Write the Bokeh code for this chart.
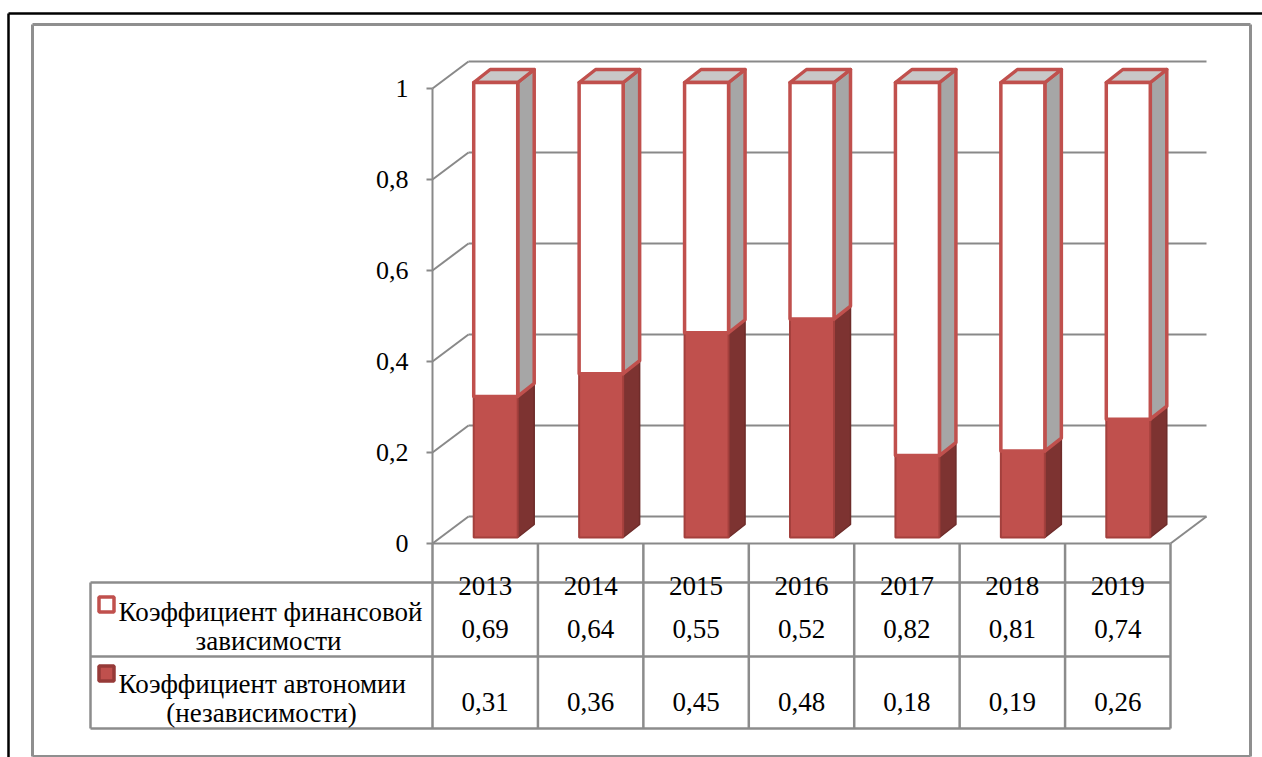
from bokeh.plotting import figure
from bokeh.models import Range1d, LinearAxis, FixedTicker
from bokeh.core.properties import value
from bokeh.embed import file_html
from bokeh.resources import INLINE

# ---- data -------------------------------------------------------------
years = ["2013", "2014", "2015", "2016", "2017", "2018", "2019"]
autonomy = [0.31, 0.36, 0.45, 0.48, 0.18, 0.19, 0.26]      # Коэффициент автономии
dependence = [0.69, 0.64, 0.55, 0.52, 0.82, 0.81, 0.74]    # Коэффициент финансовой зависимости
y_ticks = [0, 0.2, 0.4, 0.6, 0.8, 1]
y_tick_labels = ["0", "0,2", "0,4", "0,6", "0,8", "1"]
series_names = [["Коэффициент финансовой", "зависимости"],
                ["Коэффициент автономии", "(независимости)"]]

# ---- canvas geometry ---------------------------------------------------
W, H = 1262, 757
N = len(years)
X0_PX, Y0_PX = 432.0, 543.0          # origin of the category/value plane
PXX = (1170.0 - X0_PX) / N           # pixels per category
PXY = 455.0                          # pixels per value unit


def px_x(px):
    return (px - X0_PX) / PXX


def px_y(py):
    return (Y0_PX - py) / PXY


# depth of the 3-D box and of the columns inside it
DX, DY = 36 / PXX, 27 / PXY
BAR_W = 44 / PXX
FRONT_DX, FRONT_DY = 10.5 / PXX, 6 / PXY
SIDE_DX, SIDE_DY = 16.5 / PXX, 13 / PXY

FONT_NAME = "Liberation Serif"
SERIF = value(FONT_NAME)
TXT = "27px"
GRID = "#898989"
TABLE = "#8c8c8c"
RED = "#c0504d"
RED_DARK = "#7d3331"
RED_EDGE = "#a4403d"

p = figure(width=W, height=H, output_backend="svg", toolbar_location=None,
           x_range=Range1d(px_x(0), px_x(W)), y_range=Range1d(px_y(H), px_y(0)),
           x_axis_type=None, y_axis_type=None, min_border=0,
           background_fill_color="white", border_fill_color="white")
p.outline_line_color = None
p.grid.visible = False

# ---- outer frames ------------------------------------------------------
p.segment(x0=[px_x(8), px_x(8)], y0=[px_y(13), px_y(13)],
          x1=[px_x(W), px_x(8)], y1=[px_y(13), px_y(H)],
          line_color="black", line_width=2.5)
fx0, fx1, fy0, fy1 = px_x(32), px_x(1250), px_y(24), px_y(756)
p.segment(x0=[fx0, fx0, fx1, fx0], y0=[fy0, fy1, fy0, fy0],
          x1=[fx1, fx1, fx1, fx0], y1=[fy0, fy1, fy1, fy1],
          line_color="#8f8f8f", line_width=3)

# ---- back wall gridlines and floor -------------------------------------
p.segment(x0=[0] * len(y_ticks), y0=y_ticks,
          x1=[DX] * len(y_ticks), y1=[t + DY for t in y_ticks],
          line_color=GRID, line_width=2)
p.segment(x0=[DX] * len(y_ticks), y0=[t + DY for t in y_ticks],
          x1=[N + DX] * len(y_ticks), y1=[t + DY for t in y_ticks],
          line_color=GRID, line_width=2)
p.segment(x0=[N], y0=[0], x1=[N + DX], y1=[DY], line_color=GRID, line_width=2)

# ---- stacked 3-D columns -----------------------------------------------
def front(i, lo, hi):
    x0 = i + 0.5 - BAR_W / 2 + FRONT_DX
    return [x0, x0 + BAR_W, x0 + BAR_W, x0], [lo, lo, hi, hi]


def side(i, lo, hi):
    x1 = i + 0.5 + BAR_W / 2 + FRONT_DX
    return ([x1, x1 + SIDE_DX, x1 + SIDE_DX, x1],
            [lo, lo + SIDE_DY, hi + SIDE_DY, hi])


def top(i, h):
    x0 = i + 0.5 - BAR_W / 2 + FRONT_DX
    return ([x0, x0 + BAR_W, x0 + BAR_W + SIDE_DX, x0 + SIDE_DX],
            [h, h, h + SIDE_DY, h + SIDE_DY])


red_front, red_side, wh_front, wh_side, wh_top = ([], []), ([], []), ([], []), ([], []), ([], [])
for i in range(N):
    base = FRONT_DY
    a = autonomy[i]
    d = dependence[i]
    for store, (xs, ys) in ((red_front, front(i, base, base + a)),
                            (red_side, side(i, base, base + a)),
                            (wh_front, front(i, base + a, base + a + d)),
                            (wh_side, side(i, base + a, base + a + d)),
                            (wh_top, top(i, base + a + d))):
        store[0].append(xs)
        store[1].append(ys)

p.patches(xs=red_side[0], ys=red_side[1], fill_color=RED_DARK,
          line_color="#6e2c2a", line_width=1.5)
p.patches(xs=red_front[0], ys=red_front[1], fill_color=RED,
          line_color=RED_EDGE, line_width=2)
p.patches(xs=wh_side[0], ys=wh_side[1], fill_color="#a6a6a6",
          line_color=RED, line_width=3.5, line_join="round")
p.patches(xs=wh_top[0], ys=wh_top[1], fill_color="#c8c8c8",
          line_color=RED, line_width=3.5, line_join="round")
p.patches(xs=wh_front[0], ys=wh_front[1], fill_color="white",
          line_color=RED, line_width=3.5, line_join="round")

# ---- value axis --------------------------------------------------------
yax = LinearAxis(fixed_location=0, bounds=(0, 1),
                 ticker=FixedTicker(ticks=y_ticks),
                 major_label_overrides=dict(zip(y_ticks, y_tick_labels)))
yax.axis_line_color = GRID
yax.axis_line_width = 2
yax.major_tick_line_color = GRID
yax.major_tick_line_width = 2
yax.major_tick_out = 6
yax.major_tick_in = 0
yax.minor_tick_line_color = None
yax.major_label_standoff = 18
yax.major_label_text_font = FONT_NAME
yax.major_label_text_font_size = "26px"
yax.major_label_text_color = "black"
p.add_layout(yax, "left")

# ---- data table --------------------------------------------------------
row_lines = [px_y(582), px_y(656), px_y(728)]
p.segment(x0=[px_x(90)] * 3, y0=row_lines, x1=[N] * 3, y1=row_lines,
          line_color=TABLE, line_width=2.5)
p.segment(x0=[px_x(90)], y0=[row_lines[0]], x1=[px_x(90)], y1=[row_lines[2]],
          line_color=TABLE, line_width=2.5)
p.segment(x0=list(range(N + 1)), y0=[0] * (N + 1),
          x1=list(range(N + 1)), y1=[row_lines[2]] * (N + 1),
          line_color=TABLE, line_width=2.5)
p.segment(x0=[0], y0=[0], x1=[N], y1=[0], line_color=GRID, line_width=2)

centers = [i + 0.5 for i in range(N)]
p.text(x=centers, y=[px_y(585)] * N, text=years, text_align="center",
       text_baseline="alphabetic", text_font=SERIF, text_font_size=TXT,
       text_color="black")
p.text(x=centers, y=[px_y(628)] * N,
       text=[f"{v:.2f}".replace(".", ",") for v in dependence],
       text_align="center", text_baseline="alphabetic", text_font=SERIF,
       text_font_size=TXT, text_color="black")
p.text(x=centers, y=[px_y(701)] * N,
       text=[f"{v:.2f}".replace(".", ",") for v in autonomy],
       text_align="center", text_baseline="alphabetic", text_font=SERIF,
       text_font_size=TXT, text_color="black")

# series names with their swatches
p.text(x=[px_x(118), px_x(118)], y=[px_y(611), px_y(683)],
       text=[series_names[0][0], series_names[1][0]], text_align="left",
       text_baseline="alphabetic", text_font=SERIF, text_font_size=TXT,
       text_color="black")
p.text(x=[px_x(268), px_x(261)], y=[px_y(640), px_y(712)],
       text=[series_names[0][1], series_names[1][1]], text_align="center",
       text_baseline="alphabetic", text_font=SERIF, text_font_size=TXT,
       text_color="black")
p.scatter(x=[px_x(106)], y=[px_y(604)], marker="square", size=15,
          fill_color="white", line_color=RED, line_width=3.5)
p.scatter(x=[px_x(106)], y=[px_y(673)], marker="square", size=15,
          fill_color=RED, line_color="#963a38", line_width=3.5)

open("out.html", "w").write(file_html(p, INLINE))
